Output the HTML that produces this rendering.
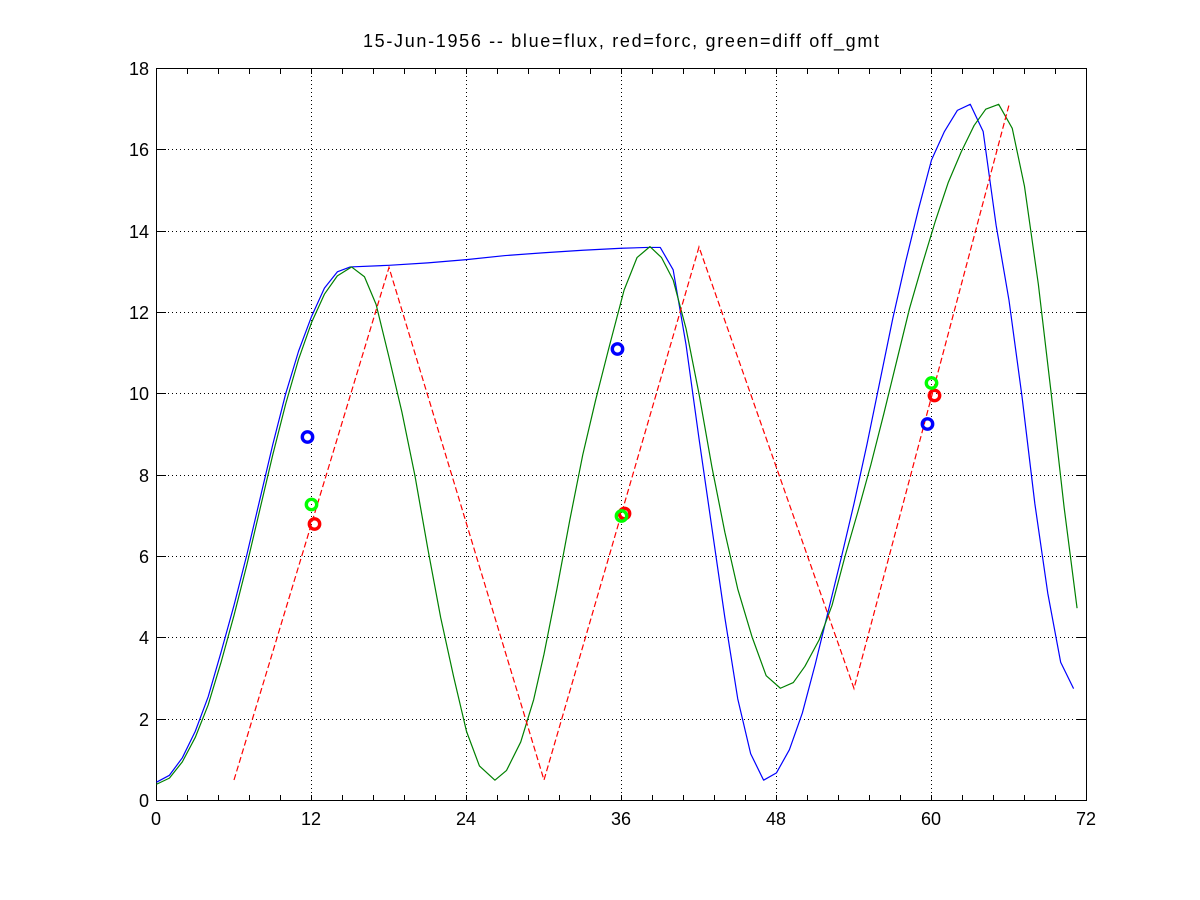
<!DOCTYPE html>
<html>
<head>
<meta charset="utf-8">
<style>
  html, body { margin: 0; padding: 0; background: #ffffff; }
  svg { display: block; }
  text { font-family: "Liberation Sans", "DejaVu Sans", sans-serif; font-size: 18px; fill: #000; }
</style>
</head>
<body>
<svg width="1200" height="900" viewBox="0 0 1200 900" xmlns="http://www.w3.org/2000/svg">
  <rect x="0" y="0" width="1200" height="900" fill="#ffffff"/>

  <!-- grid -->
  <g stroke="#000" stroke-width="1" stroke-dasharray="1,3" fill="none" shape-rendering="crispEdges">
    <line x1="311.5" y1="68" x2="311.5" y2="800"/>
    <line x1="466.5" y1="68" x2="466.5" y2="800"/>
    <line x1="621.5" y1="68" x2="621.5" y2="800"/>
    <line x1="776.5" y1="68" x2="776.5" y2="800"/>
    <line x1="931.5" y1="68" x2="931.5" y2="800"/>
    <line x1="156" y1="719.5" x2="1086" y2="719.5"/>
    <line x1="156" y1="637.5" x2="1086" y2="637.5"/>
    <line x1="156" y1="556.5" x2="1086" y2="556.5"/>
    <line x1="156" y1="475.5" x2="1086" y2="475.5"/>
    <line x1="156" y1="393.5" x2="1086" y2="393.5"/>
    <line x1="156" y1="312.5" x2="1086" y2="312.5"/>
    <line x1="156" y1="231.5" x2="1086" y2="231.5"/>
    <line x1="156" y1="149.5" x2="1086" y2="149.5"/>
  </g>

  <!-- axes box -->
  <rect x="156.5" y="68.5" width="930" height="732" fill="none" stroke="#000" stroke-width="1" shape-rendering="crispEdges"/>

  <!-- x ticks (every 31px), bottom and top -->
  <g stroke="#000" stroke-width="1" shape-rendering="crispEdges">
    <path d="M156.5 800v-5M187.5 800v-5M218.5 800v-5M249.5 800v-5M280.5 800v-5M311.5 800v-5M342.5 800v-5M373.5 800v-5M404.5 800v-5M435.5 800v-5M466.5 800v-5M497.5 800v-5M528.5 800v-5M559.5 800v-5M590.5 800v-5M621.5 800v-5M652.5 800v-5M683.5 800v-5M714.5 800v-5M745.5 800v-5M776.5 800v-5M807.5 800v-5M838.5 800v-5M869.5 800v-5M900.5 800v-5M931.5 800v-5M962.5 800v-5M993.5 800v-5M1024.5 800v-5M1055.5 800v-5M1086.5 800v-5"/>
    <path d="M156.5 69v5M187.5 69v5M218.5 69v5M249.5 69v5M280.5 69v5M311.5 69v5M342.5 69v5M373.5 69v5M404.5 69v5M435.5 69v5M466.5 69v5M497.5 69v5M528.5 69v5M559.5 69v5M590.5 69v5M621.5 69v5M652.5 69v5M683.5 69v5M714.5 69v5M745.5 69v5M776.5 69v5M807.5 69v5M838.5 69v5M869.5 69v5M900.5 69v5M931.5 69v5M962.5 69v5M993.5 69v5M1024.5 69v5M1055.5 69v5M1086.5 69v5"/>
    <!-- y ticks left and right -->
    <path d="M157 719.5h9M157 637.5h9M157 556.5h9M157 475.5h9M157 393.5h9M157 312.5h9M157 231.5h9M157 149.5h9"/>
    <path d="M1086 719.5h-9M1086 637.5h-9M1086 556.5h-9M1086 475.5h-9M1086 393.5h-9M1086 312.5h-9M1086 231.5h-9M1086 149.5h-9"/>
  </g>

  <!-- y tick labels -->
  <g text-anchor="end">
    <text x="149" y="807">0</text>
    <text x="149" y="726">2</text>
    <text x="149" y="644">4</text>
    <text x="149" y="563">6</text>
    <text x="149" y="482">8</text>
    <text x="149" y="400">10</text>
    <text x="149" y="319">12</text>
    <text x="149" y="238">14</text>
    <text x="149" y="156">16</text>
    <text x="149" y="75">18</text>
  </g>

  <!-- x tick labels -->
  <g text-anchor="middle">
    <text x="156" y="825">0</text>
    <text x="311" y="825">12</text>
    <text x="466" y="825">24</text>
    <text x="621" y="825">36</text>
    <text x="776" y="825">48</text>
    <text x="931" y="825">60</text>
    <text x="1086" y="825">72</text>
  </g>

  <!-- title -->
  <text x="363" y="47" textLength="516" lengthAdjust="spacing">15-Jun-1956 -- blue=flux, red=forc, green=diff off_gmt</text>

  <!-- data series (data coordinates) -->
  <g transform="translate(156.5,800.5) scale(12.9167,-40.6667)" fill="none">
    <polyline vector-effect="non-scaling-stroke" stroke="#0000ff" stroke-width="1.2" stroke-linejoin="round"
      points="0,0.45 1,0.62 2,1.05 3,1.7 4,2.55 5,3.65 6,4.8 7,6.05 8,7.4 9,8.75 10,10 11,11.05 12,11.9 13,12.6 14,13 15,13.12 18,13.16 21,13.22 24,13.3 27,13.4 30,13.47 33,13.53 36,13.58 38,13.6 39,13.6 40,13.05 41,11.2 42,8.9 43,6.7 44,4.5 45,2.5 46,1.15 47,0.5 48,0.68 49,1.25 50,2.15 51,3.35 52,4.65 53,5.95 54,7.3 55,8.75 56,10.3 57,11.85 58,13.25 59,14.55 60,15.75 61,16.45 62,16.97 63,17.12 64,16.45 65,14.15 66,12.3 67,9.95 68,7.3 69,5.1 70,3.4 71,2.75"/>
    <polyline vector-effect="non-scaling-stroke" stroke="#008000" stroke-width="1.2" stroke-linejoin="round"
      points="0,0.4 1,0.55 2,0.95 3,1.55 4,2.35 5,3.4 6,4.55 7,5.8 8,7.15 9,8.5 10,9.75 11,10.85 12,11.75 13,12.45 14,12.9 15.1,13.12 16.1,12.88 17,12.2 18,10.9 19,9.55 20,8 21,6.2 22,4.5 23,3.05 24,1.7 25,0.85 26.2,0.5 27.1,0.74 28.2,1.44 29.2,2.48 30,3.6 31,5.2 32,6.9 33,8.5 34,9.85 35,11.1 36.2,12.55 37.2,13.35 38.2,13.62 39.1,13.35 40,12.8 41,11.6 42,10 43,8.2 44,6.6 45,5.2 46.1,4.03 47.2,3.07 48.3,2.76 49.3,2.9 50.2,3.3 51.3,3.95 52.3,4.8 53.3,6 54.3,7.1 55.3,8.25 56.3,9.5 57.3,10.8 58.3,12.1 59.3,13.2 60.3,14.25 61.3,15.2 62.3,15.95 63.3,16.6 64.2,17 65.2,17.12 66.25,16.53 67.2,15.1 68.27,12.7 69.27,10 70.27,7.2 71.27,4.73"/>
  </g>

  <!-- red dashed (pixel coords) -->
  <polyline fill="none" stroke="#ff0000" stroke-width="1.2" stroke-dasharray="6,3"
    points="234,780 389,267.5 544,780 699,247 854,688.5 1009,105"/>

  <!-- markers -->
  <g fill="none" stroke-width="3.4">
    <circle cx="307.5" cy="437" r="5.2" stroke="#0000ff"/>
    <circle cx="617.5" cy="349" r="5.2" stroke="#0000ff"/>
    <circle cx="927.5" cy="424" r="5.2" stroke="#0000ff"/>
    <circle cx="314.5" cy="524" r="5.2" stroke="#ff0000"/>
    <circle cx="624.5" cy="513.5" r="5.2" stroke="#ff0000"/>
    <circle cx="934.5" cy="395.5" r="5.2" stroke="#ff0000"/>
    <circle cx="311.5" cy="504.5" r="5.2" stroke="#00ff00"/>
    <circle cx="621.5" cy="516" r="5.2" stroke="#00ff00"/>
    <circle cx="931.5" cy="383" r="5.2" stroke="#00ff00"/>
  </g>
</svg>
</body>
</html>
